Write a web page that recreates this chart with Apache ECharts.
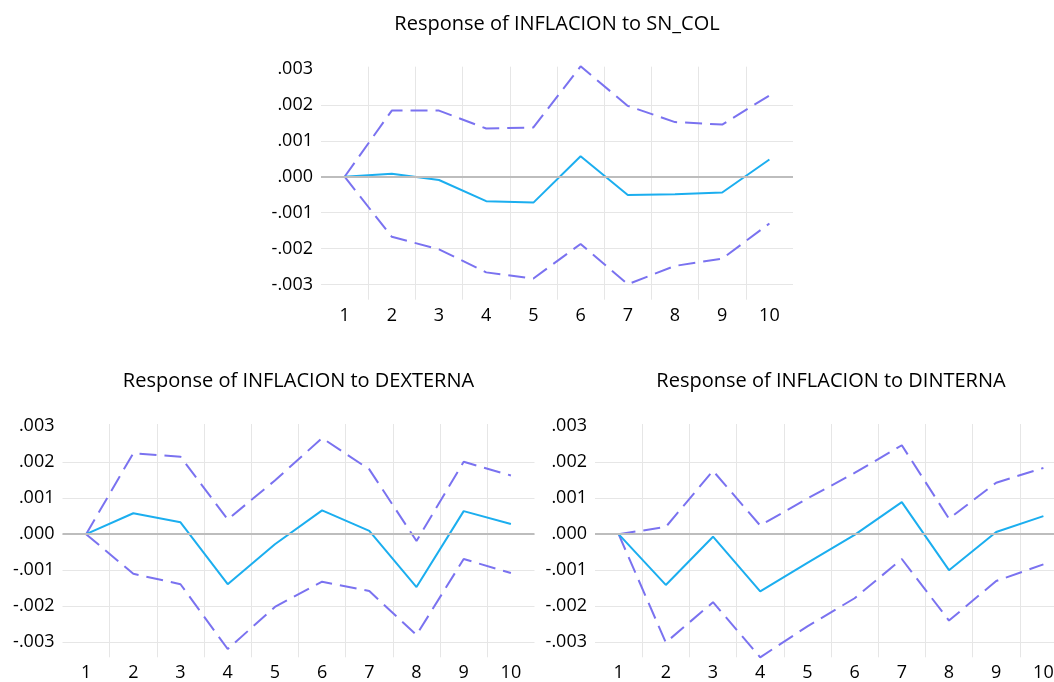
<!DOCTYPE html>
<html>
<head>
<meta charset="utf-8">
<script src="https://cdn.jsdelivr.net/npm/echarts@6/dist/echarts.min.js"></script>
<style>
html,body{margin:0;padding:0;background:#fff;}
#c{width:1054px;height:682px;}
</style>
</head>
<body>
<div id="c"></div>
<script>
// ---- data ----
const periods = ['1','2','3','4','5','6','7','8','9','10'];
const titles = ['Response of INFLACION to SN_COL','Response of INFLACION to DEXTERNA','Response of INFLACION to DINTERNA'];
const yTickLabels = [-0.003,-0.002,-0.001,0,0.001,0.002,0.003];
const yGridValues = [-0.003,-0.002,-0.001,0,0.001,0.002];

// Response of INFLACION to SN_COL
const respSN = [0, 0.00008, -0.00009, -0.00068, -0.00072, 0.00057, -0.00051, -0.00049, -0.00044, 0.00048];
const upSN   = [0, 0.00184, 0.00184, 0.00134, 0.00137, 0.00307, 0.00197, 0.00152, 0.00145, 0.00226];
const loSN   = [0, -0.00167, -0.00202, -0.00266, -0.00283, -0.00187, -0.00299, -0.00248, -0.00228, -0.00130];

// Response of INFLACION to DEXTERNA
const respDE = [0, 0.00058, 0.00033, -0.00139, -0.00028, 0.00066, 0.00009, -0.00147, 0.00064, 0.00028];
const upDE   = [0, 0.00225, 0.00215, 0.00041, 0.00149, 0.00267, 0.00180, -0.00019, 0.00201, 0.00163];
const loDE   = [0, -0.00110, -0.00139, -0.00319, -0.00202, -0.00132, -0.00158, -0.00280, -0.00069, -0.00108];

// Response of INFLACION to DINTERNA
const respDI = [0, -0.00141, -0.00007, -0.00159, -0.00080, -0.00002, 0.00089, -0.00100, 0.00006, 0.00050];
const upDI   = [0, 0.00020, 0.00176, 0.00024, 0.00099, 0.00170, 0.00247, 0.00043, 0.00143, 0.00184];
const loDI   = [0, -0.00301, -0.00189, -0.00342, -0.00256, -0.00178, -0.00069, -0.00240, -0.00130, -0.00084];

const panels = [
  {title: titles[0], resp: respSN, up: upSN, lo: loSN},
  {title: titles[1], resp: respDE, up: upDE, lo: loDE},
  {title: titles[2], resp: respDI, up: upDI, lo: loDI}
];

// ---- layout / style ----
const FONT = '"Open Sans", "Liberation Sans", sans-serif';
const grids = [
  {left: 321, top: 66.7, width: 472, height: 233},
  {left: 62.5, top: 424, width: 472, height: 233.3},
  {left: 595, top: 424, width: 472, height: 233.3}
];
const titlePos = [[557, 24.5], [298.5, 381.5], [831, 381.5]];
const SOLID = '#1BAEEF';
const DASH = '#7A72F0';
const GRID = '#E6E6E6';
const TEXT = '#000';

function fmt(v) {
  const s = Math.abs(v).toFixed(3).replace(/^0/, '');
  return (v < -1e-9 ? '-' : '') + s;
}

const option = {
  animation: false,
  backgroundColor: '#ffffff',
  grid: grids.map(g => Object.assign({containLabel: false, outerBoundsMode: 'none'}, g)),
  xAxis: grids.map((g, i) => ({
    type: 'category',
    gridIndex: i,
    data: periods,
    boundaryGap: true,
    axisLine: {show: false},
    axisTick: {show: false},
    axisLabel: {color: TEXT, fontSize: 18, fontFamily: FONT, margin: 7},
    splitLine: {show: true, showMinLine: false, showMaxLine: false, lineStyle: {color: GRID, width: 1}}
  })),
  yAxis: grids.map((g, i) => ({
    type: 'value',
    gridIndex: i,
    min: -0.00342,
    max: 0.00306,
    axisLine: {show: false},
    axisTick: {show: false, customValues: yGridValues},
    axisLabel: {
      customValues: yTickLabels,
      formatter: fmt,
      color: TEXT, fontSize: 18, fontFamily: FONT, margin: 8,
      padding: [0, 0, 5, 0]
    },
    splitLine: {show: true, lineStyle: {color: GRID, width: 1}}
  })),
  graphic: panels.map((p, i) => ({
    type: 'text',
    x: titlePos[i][0],
    y: titlePos[i][1],
    style: {
      text: p.title,
      fill: TEXT,
      font: '20px ' + FONT,
      textAlign: 'center',
      textVerticalAlign: 'middle'
    }
  })),
  series: []
};

panels.forEach((p, i) => {
  option.series.push({
    type: 'line', xAxisIndex: i, yAxisIndex: i, data: [], z: 1,
    markLine: {
      silent: true, symbol: 'none', animation: false,
      label: {show: false},
      lineStyle: {color: '#BDBDBD', width: 2, type: 'solid'},
      data: [{yAxis: 0}]
    }
  });
  option.series.push({
    type: 'line', xAxisIndex: i, yAxisIndex: i, data: p.up, z: 3, clip: false,
    symbol: 'none', lineStyle: {color: DASH, width: 2, type: [17, 8]}
  });
  option.series.push({
    type: 'line', xAxisIndex: i, yAxisIndex: i, data: p.lo, z: 3, clip: false,
    symbol: 'none', lineStyle: {color: DASH, width: 2, type: [17, 8]}
  });
  option.series.push({
    type: 'line', xAxisIndex: i, yAxisIndex: i, data: p.resp, z: 4, clip: false,
    symbol: 'none', lineStyle: {color: SOLID, width: 2}
  });
});

const chart = echarts.init(document.getElementById('c'), null, {renderer: 'canvas'});
chart.setOption(option);
</script>
</body>
</html>
